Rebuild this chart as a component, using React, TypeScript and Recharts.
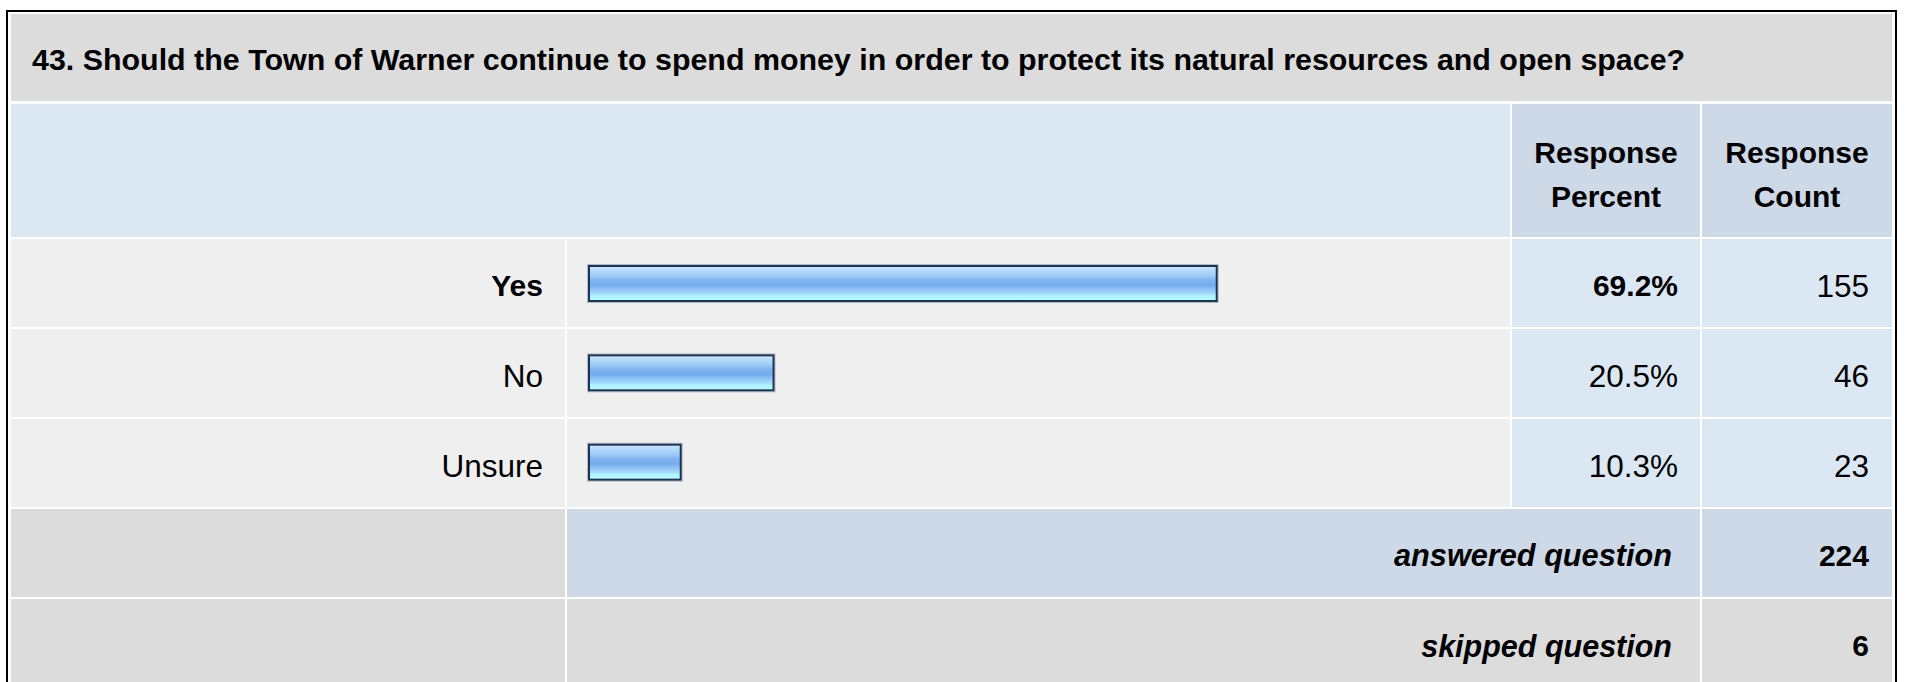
import React from 'react'
import { BarChart, Bar, XAxis, YAxis } from 'recharts'

// survey question 43 – response breakdown
const QUESTION = '43. Should the Town of Warner continue to spend money in order to protect its natural resources and open space?'
const categories = ['Yes', 'No', 'Unsure']
const percents = [69.2, 20.5, 10.3]
const counts = [155, 46, 23]
const answeredCount = 224
const skippedCount = 6

const FONT = '"Liberation Sans", Arial, Helvetica, sans-serif'

const GREY = '#dcdcdc'
const ROW_BG = '#efefef'
const LIGHT_BLUE = '#dce7f4'
const MID_BLUE = '#cdd9e6'

// column edges (cells separated by 2px white gaps)
const COL = { label: [11, 565], bar: [567, 1510], pct: [1512, 1700], cnt: [1702, 1892] }
const ROWS_Y = [239, 329, 419]
const ROW_H = 88

interface BoxProps {
  x0: number
  x1: number
  y: number
  h: number
  bg: string
  align?: 'left' | 'right' | 'center'
  pad?: number
  style?: React.CSSProperties
  children?: React.ReactNode
}

function Box({ x0, x1, y, h, bg, align = 'right', pad = 22, style, children }: BoxProps) {
  return (
    <div
      style={{
        position: 'absolute',
        left: x0,
        top: y,
        width: x1 - x0,
        height: h,
        background: bg,
        display: 'flex',
        alignItems: 'center',
        justifyContent: align === 'left' ? 'flex-start' : align === 'center' ? 'center' : 'flex-end',
        textAlign: align,
        paddingLeft: align === 'left' ? pad : 0,
        paddingRight: align === 'right' ? pad : 0,
        paddingTop: 6,
        boxSizing: 'border-box',
        fontFamily: FONT,
        fontSize: 31.5,
        color: '#000',
        whiteSpace: 'nowrap',
        ...style,
      }}
    >
      {children}
    </div>
  )
}

function GlossyBar(props: any) {
  const { x, y, width, height } = props
  if (!width || width <= 0) return null
  return (
    <g>
      <defs>
        <linearGradient id="glossBar" x1="0" y1="0" x2="0" y2="1">
          <stop offset="0%" stopColor="#cfe7fd" />
          <stop offset="14%" stopColor="#b3d8fb" />
          <stop offset="28%" stopColor="#9dcbf8" />
          <stop offset="40%" stopColor="#80b5f0" />
          <stop offset="55%" stopColor="#75abec" />
          <stop offset="66%" stopColor="#8fc3f6" />
          <stop offset="78%" stopColor="#a2d8fa" />
          <stop offset="86%" stopColor="#b0f5fe" />
          <stop offset="100%" stopColor="#b2f9ff" />
        </linearGradient>
      </defs>
      <rect x={x - 0.5} y={y - 0.5} width={width + 1} height={height + 1} fill="none" stroke="#8d96a3" strokeWidth={1} opacity={0.6} />
      <rect x={x + 1} y={y + 1} width={width - 2} height={height - 2} fill="url(#glossBar)" stroke="#1b3454" strokeWidth={2} />
    </g>
  )
}

export default function App() {
  const data = categories.map((name, i) => ({ name, value: percents[i] }))
  const maxIdx = percents.indexOf(Math.max(...percents))

  return (
    <div style={{ position: 'absolute', left: 0, top: 0, width: 1907, height: 682, overflow: 'hidden', background: '#fff' }}>
      {/* outer frame */}
      <div style={{ position: 'absolute', left: 6, top: 10, width: 1891, height: 700, border: '2px solid #000', boxSizing: 'border-box' }} />

      {/* title */}
      <Box x0={11} x1={1892} y={14} h={87} bg={GREY} align="left" pad={21} style={{ fontSize: 30.4, fontWeight: 'bold', paddingTop: 3 }}>
        {QUESTION}
      </Box>

      {/* header */}
      <Box x0={11} x1={1510} y={104} h={133} bg={LIGHT_BLUE} />
      <Box x0={COL.pct[0]} x1={COL.pct[1]} y={104} h={133} bg={MID_BLUE} align="center" style={{ fontSize: 30, fontWeight: 'bold', lineHeight: '44px', paddingTop: 9 }}>
        Response<br />Percent
      </Box>
      <Box x0={COL.cnt[0]} x1={COL.cnt[1]} y={104} h={133} bg={MID_BLUE} align="center" style={{ fontSize: 30, fontWeight: 'bold', lineHeight: '44px', paddingTop: 9 }}>
        Response<br />Count
      </Box>

      {/* answer rows */}
      {categories.map((cat, i) => (
        <React.Fragment key={cat}>
          <Box x0={COL.label[0]} x1={COL.label[1]} y={ROWS_Y[i]} h={ROW_H} bg={ROW_BG} style={i === maxIdx ? { fontWeight: 'bold', fontSize: 30 } : {}}>
            {cat}
          </Box>
          <Box x0={COL.bar[0]} x1={COL.bar[1]} y={ROWS_Y[i]} h={ROW_H} bg={ROW_BG} />
          <Box x0={COL.pct[0]} x1={COL.pct[1]} y={ROWS_Y[i]} h={ROW_H} bg={LIGHT_BLUE} style={i === maxIdx ? { fontWeight: 'bold', fontSize: 30 } : {}}>
            {percents[i].toFixed(1)}%
          </Box>
          <Box x0={COL.cnt[0]} x1={COL.cnt[1]} y={ROWS_Y[i]} h={ROW_H} bg={LIGHT_BLUE} pad={23}>
            {counts[i]}
          </Box>
        </React.Fragment>
      ))}

      {/* bars */}
      <div style={{ position: 'absolute', left: COL.bar[0], top: 239, width: COL.bar[1] - COL.bar[0], height: 268 }}>
        <BarChart
          width={COL.bar[1] - COL.bar[0]}
          height={268}
          data={data}
          layout="vertical"
          margin={{ top: 0, right: 12, bottom: 0, left: 21 }}
          barCategoryGap={0}
        >
          <XAxis type="number" domain={[0, 100]} hide />
          <YAxis type="category" dataKey="name" hide />
          <Bar dataKey="value" barSize={37} shape={<GlossyBar />} isAnimationActive={false} />
        </BarChart>
      </div>

      {/* summary rows */}
      <Box x0={COL.label[0]} x1={COL.label[1]} y={509} h={88} bg={GREY} />
      <Box x0={COL.bar[0]} x1={COL.pct[1]} y={509} h={88} bg={MID_BLUE} pad={28} style={{ fontSize: 30.7, fontWeight: 'bold', fontStyle: 'italic' }}>
        answered question
      </Box>
      <Box x0={COL.cnt[0]} x1={COL.cnt[1]} y={509} h={88} bg={MID_BLUE} pad={23} style={{ fontSize: 30, fontWeight: 'bold' }}>
        {answeredCount}
      </Box>

      <Box x0={COL.label[0]} x1={COL.label[1]} y={599} h={88} bg={GREY} />
      <Box x0={COL.bar[0]} x1={COL.pct[1]} y={599} h={88} bg={GREY} pad={28} style={{ fontSize: 30.5, fontWeight: 'bold', fontStyle: 'italic' }}>
        skipped question
      </Box>
      <Box x0={COL.cnt[0]} x1={COL.cnt[1]} y={599} h={88} bg={GREY} pad={23} style={{ fontSize: 30, fontWeight: 'bold' }}>
        {skippedCount}
      </Box>
    </div>
  )
}
